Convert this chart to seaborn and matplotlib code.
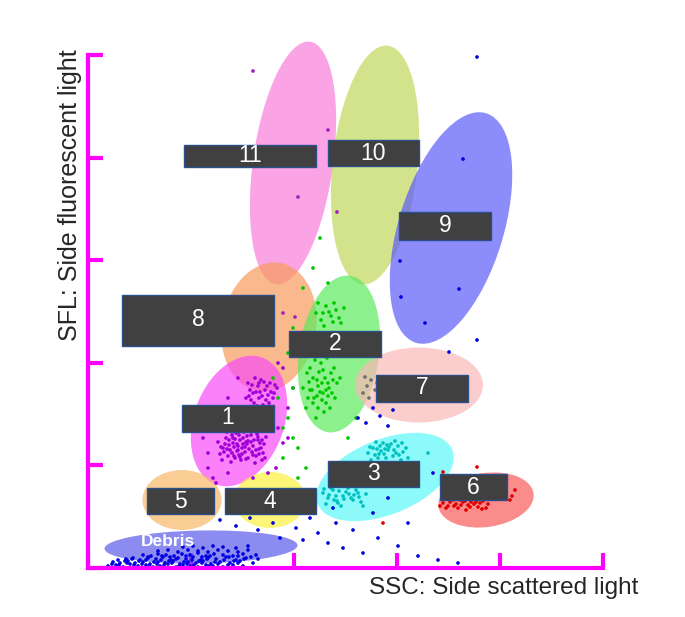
import pandas as pd
import matplotlib.pyplot as plt
from matplotlib.patches import Ellipse, Rectangle
import seaborn as sns

# gate ellipses: name, centre x, centre y, width, height, angle, colour
gate_names = ['11', '10', '9', '8', '2', '7', '1', '3', '6', '5', '4', 'Debris']
gate_cx = [205, 287, 363, 181, 251, 331, 151, 297, 398, 94, 182, 113]
gate_cy = [405, 403, 340, 241, 214, 183, 147, 91, 68, 68, 68, 21]
gate_w = [80, 85, 105, 94, 80, 128, 90, 145, 96, 79, 72, 193]
gate_h = [245, 240, 240, 130, 158, 75, 135, 75, 54, 60, 56, 33]
gate_angle = [-8, -6, -17, -10, -8, 0, -20, 22, 8, 0, 0, 1]
gate_colors = ['#f87edb', '#bfd85b', '#5b5bf8', '#f89c5b', '#5bea5b', '#fbb8b8',
               '#f84cf8', '#5bf8f8', '#f85b5b', '#f8b869', '#fbf13e', '#5b5bea']

# label boxes: text, centre x, centre y, width, height
box_text = ['11', '10', '9', '8', '2', '7', '1', '3', '6', '5', '4']
box_cx = [162, 285, 357, 110, 247, 334, 140, 285, 385, 92, 182]
box_cy = [412, 415, 342, 248, 224, 180, 150, 94, 81, 67, 67]
box_w = [132, 91, 92, 152, 92, 92, 92, 91, 67, 67, 91]
box_h = [22, 26, 28, 51, 26, 27, 27, 26, 26, 26, 26]

# events (SSC, SFL)
c1_x = [135, 140, 145, 150, 155, 160, 165, 170, 175, 138, 143, 148, 153, 158, 163, 168, 173, 178, 132, 137,
        142, 147, 152, 157, 162, 167, 172, 177, 141, 146, 151, 156, 161, 166, 171, 176, 134, 139, 144, 149,
        154, 159, 164, 169, 174, 130, 145, 155, 160, 150,
        136, 141, 147, 152, 157, 163, 168, 174, 139, 144, 149, 154, 159, 165, 170, 133, 146, 158, 171, 151,
        158, 162, 166, 170, 174, 178, 182, 186, 160, 165, 169, 173, 177, 181, 185, 189, 163, 167, 171, 175,
        179, 183, 176, 168, 172, 161, 180, 187, 171, 164,
        120, 125, 118, 190, 195, 188, 130, 140, 150, 200, 185, 128, 165, 180, 195, 205, 115, 140, 175, 190,
        145, 160, 120, 200]
c1_y = [120, 112, 125, 118, 130, 110, 122, 128, 115, 130, 106, 135, 108, 126, 133, 112, 120, 131, 114, 124,
        118, 110, 128, 116, 138, 105, 125, 110, 128, 121, 113, 136, 119, 128, 114, 124, 108, 136, 115, 124,
        120, 132, 116, 134, 108, 126, 130, 124, 127, 122,
        116, 123, 129, 111, 121, 126, 118, 128, 119, 133, 117, 114, 124, 113, 131, 121, 112, 109, 119, 133,
        170, 178, 165, 182, 172, 168, 185, 175, 185, 175, 162, 188, 178, 165, 170, 180, 168, 190, 170, 163,
        182, 176, 186, 176, 176, 172, 173, 183, 185, 183,
        100, 90, 145, 140, 125, 100, 160, 170, 190, 160, 150, 85, 90, 95, 200, 180, 130, 95, 145, 205,
        150, 150, 115, 130]
c2_x = [215, 220, 225, 230, 235, 240, 222, 228, 233, 238, 243, 218, 224, 229, 234, 239, 244, 249, 226, 231,
        236, 241, 246, 221, 227, 232, 237, 242, 247, 252, 219, 225, 230, 235, 240, 245, 229, 234, 222, 238,
        228, 233, 238, 243, 248, 253, 230, 236, 241, 246, 251, 256, 235, 245,
        200, 205, 195, 210, 215, 200, 185, 190, 205, 215, 225, 240, 200, 210, 260, 195, 232, 225, 218, 205,
        262, 268]
c2_y = [180, 170, 190, 160, 175, 185, 200, 150, 205, 165, 195, 160, 178, 188, 168, 210, 175, 185, 170, 196,
        156, 180, 200, 186, 208, 176, 190, 160, 170, 190, 195, 165, 182, 198, 172, 188, 172, 185, 178, 178,
        255, 248, 262, 252, 258, 245, 265, 242, 256, 265, 250, 260, 255, 246,
        150, 130, 110, 90, 70, 55, 190, 170, 240, 280, 300, 285, 215, 120, 130, 140, 330, 60, 100, 180,
        225, 150]
c3_x = [280, 285, 290, 295, 300, 305, 310, 315, 320, 283, 288, 293, 298, 303, 308, 313, 318, 287, 297, 307,
        296, 301, 311, 292, 282, 291, 299, 306, 314, 289,
        235, 240, 245, 250, 255, 260, 265, 270, 275, 238, 243, 248, 253, 258, 263, 268, 273, 278, 246, 256,
        266, 251, 241, 249, 261, 271, 236, 257,
        260, 270, 280, 290, 300, 310, 320, 330, 250, 285, 340, 330, 270]
c3_y = [115, 120, 110, 125, 118, 112, 122, 116, 110, 108, 126, 117, 110, 124, 115, 108, 120, 113, 119, 127,
        114, 121, 113, 122, 121, 114, 123, 118, 125, 119,
        75, 70, 78, 65, 72, 80, 68, 75, 62, 64, 80, 72, 62, 76, 70, 78, 66, 74, 68, 69,
        73, 77, 73, 67, 74, 71, 79, 82,
        95, 100, 90, 85, 95, 100, 90, 105, 88, 98, 115, 85, 88]
c6_x = [355, 360, 365, 370, 375, 380, 385, 390, 395, 400, 358, 368, 378, 388, 398, 362, 372, 382, 392, 352,
        373, 383, 424, 427, 422, 408, 412, 389, 355, 295, 366, 377, 386, 394]
c6_y = [65, 62, 68, 60, 66, 63, 69, 61, 67, 64, 60, 64, 58, 66, 60, 66, 68, 61, 65, 62,
        63, 66, 72, 78, 68, 70, 76, 101, 96, 45, 62, 67, 64, 59]
c7_x = [275, 279, 283, 287, 289, 281, 277]
c7_y = [175, 182, 188, 178, 185, 170, 191]
deb_x = [20, 28, 35, 42, 50, 58, 65, 72, 80, 88, 95, 102, 110, 118, 125, 135, 145, 155,
         24, 31, 39, 46, 54, 61, 69, 76, 84, 91, 99, 106, 114, 121, 130, 140, 150,
         25, 32, 40, 47, 55, 62, 70, 77, 85, 92, 100, 108, 115, 123, 132, 142, 152, 165,
         30, 37, 44, 51, 58, 66, 73, 81, 88, 96, 104, 111, 119, 127, 136, 146, 156,
         38, 45, 52, 60, 68, 75, 83, 90, 98, 105, 113, 120, 128, 138, 148, 158, 170,
         55, 63, 70, 78, 86, 94, 102, 110, 118, 126, 135, 145, 155, 168,
         60, 74, 82, 98, 114, 122, 141, 150, 163,
         70, 80, 90, 100, 110, 120, 130, 140, 150, 160,
         95, 105, 115, 125, 135, 148, 160,
         112, 118, 125, 132, 140, 148, 155, 162, 170, 178, 185, 192, 200, 208, 215, 222, 230, 240,
         248, 255, 265, 275, 290, 310, 330, 350, 370, 245, 285, 300, 320, 345, 390,
         270, 278, 285, 292, 300, 305,
         375, 312, 313, 371, 337, 389, 361, 389]
deb_y = [2, 3, 1, 4, 2, 3, 1, 2, 4, 1, 3, 2, 1, 3, 2, 1, 3, 2,
         4, 3, 5, 3, 4, 2, 4, 3, 5, 2, 4, 3, 5, 2, 4, 3, 5,
         6, 5, 7, 5, 6, 4, 6, 5, 7, 4, 6, 5, 7, 4, 6, 5, 7, 5,
         8, 7, 9, 7, 8, 6, 8, 7, 9, 6, 8, 7, 9, 6, 8, 7, 9,
         9, 10, 8, 10, 9, 11, 8, 10, 9, 11, 8, 10, 9, 11, 8, 10, 9,
         13, 12, 14, 13, 12, 14, 13, 15, 12, 14, 13, 12, 14, 13,
         11, 12, 11, 12, 11, 12, 11, 12, 11,
         17, 18, 16, 18, 17, 16, 18, 17, 16, 18,
         21, 22, 20, 22, 21, 20, 22,
         70, 60, 55, 48, 65, 42, 58, 50, 38, 62, 45, 30, 55, 40, 28, 50, 35, 25,
         45, 20, 38, 15, 30, 22, 12, 8, 5, 60, 55, 70, 45, 95, 80,
         150, 145, 160, 152, 142, 158,
         409, 307, 271, 279, 245, 228, 216, 511]
odd_x = [165, 240, 210, 249, 195, 207]
odd_y = [497, 438, 371, 356, 255, 251]

rows = []
for name, xs, ys in [('1', c1_x, c1_y), ('2', c2_x, c2_y), ('3', c3_x, c3_y), ('6', c6_x, c6_y),
                     ('7', c7_x, c7_y), ('Debris', deb_x, deb_y), ('odd', odd_x, odd_y)]:
    for a, b in zip(xs, ys):
        rows.append({'SSC': a, 'SFL': b, 'group': name})
df = pd.DataFrame(rows)
palette = {'1': '#a000d8', '2': '#00c800', '3': '#00c0c0', '6': '#e00000',
           '7': '#707070', 'Debris': '#0000e0', 'odd': '#a020c0'}

sns.set_style('white')
plt.rcParams['font.family'] = ['Liberation Sans', 'DejaVu Sans']
fig = plt.figure(figsize=(6.85, 6.17), dpi=100)
ax = fig.add_axes([88 / 685, 49 / 617, 515 / 685, 513 / 617])

for i in range(len(gate_names)):
    e = Ellipse((gate_cx[i], gate_cy[i]), gate_w[i], gate_h[i], angle=gate_angle[i],
                facecolor=gate_colors[i], edgecolor='none', alpha=0.7, zorder=1, clip_on=False)
    ax.add_patch(e)

sns.scatterplot(data=df, x='SSC', y='SFL', hue='group', palette=palette, s=7,
                linewidth=0, legend=False, ax=ax, zorder=2)

for i in range(len(box_text)):
    r = Rectangle((box_cx[i] - box_w[i] / 2, box_cy[i] - box_h[i] / 2), box_w[i], box_h[i],
                  facecolor='#404040', edgecolor='#2a4f8a', linewidth=1, zorder=3)
    ax.add_patch(r)
    ax.text(box_cx[i], box_cy[i], box_text[i], color='white', fontsize=16.5,
            ha='center', va='center', zorder=4)
ax.text(80, 26, 'Debris', color='white', fontsize=12.5, fontweight='bold',
        ha='center', va='center', zorder=4)

ax.set_xlim(0, 515)
ax.set_ylim(0, 513)
ax.set_xticks([0, 103, 206, 309, 412, 515])
ax.set_yticks([0, 102.6, 205.2, 307.8, 410.4, 513])
ax.set_xticklabels([])
ax.set_yticklabels([])
ax.tick_params(direction='in', length=11, width=3, color='#ff00ff', bottom=True, left=True)
for side in ['top', 'right']:
    ax.spines[side].set_visible(False)
for side in ['left', 'bottom']:
    ax.spines[side].set_color('#ff00ff')
    ax.spines[side].set_linewidth(3)
ax.set_xlabel('')
ax.set_ylabel('')
fig.text(70 / 685, 1 - 195 / 617, 'SFL: Side fluorescent light', rotation=90,
         fontsize=18, ha='center', va='center')
fig.text(638 / 685, 1 - 588 / 617, 'SSC: Side scattered light',
         fontsize=17.5, ha='right', va='center')

plt.savefig('out.png', dpi=100)
